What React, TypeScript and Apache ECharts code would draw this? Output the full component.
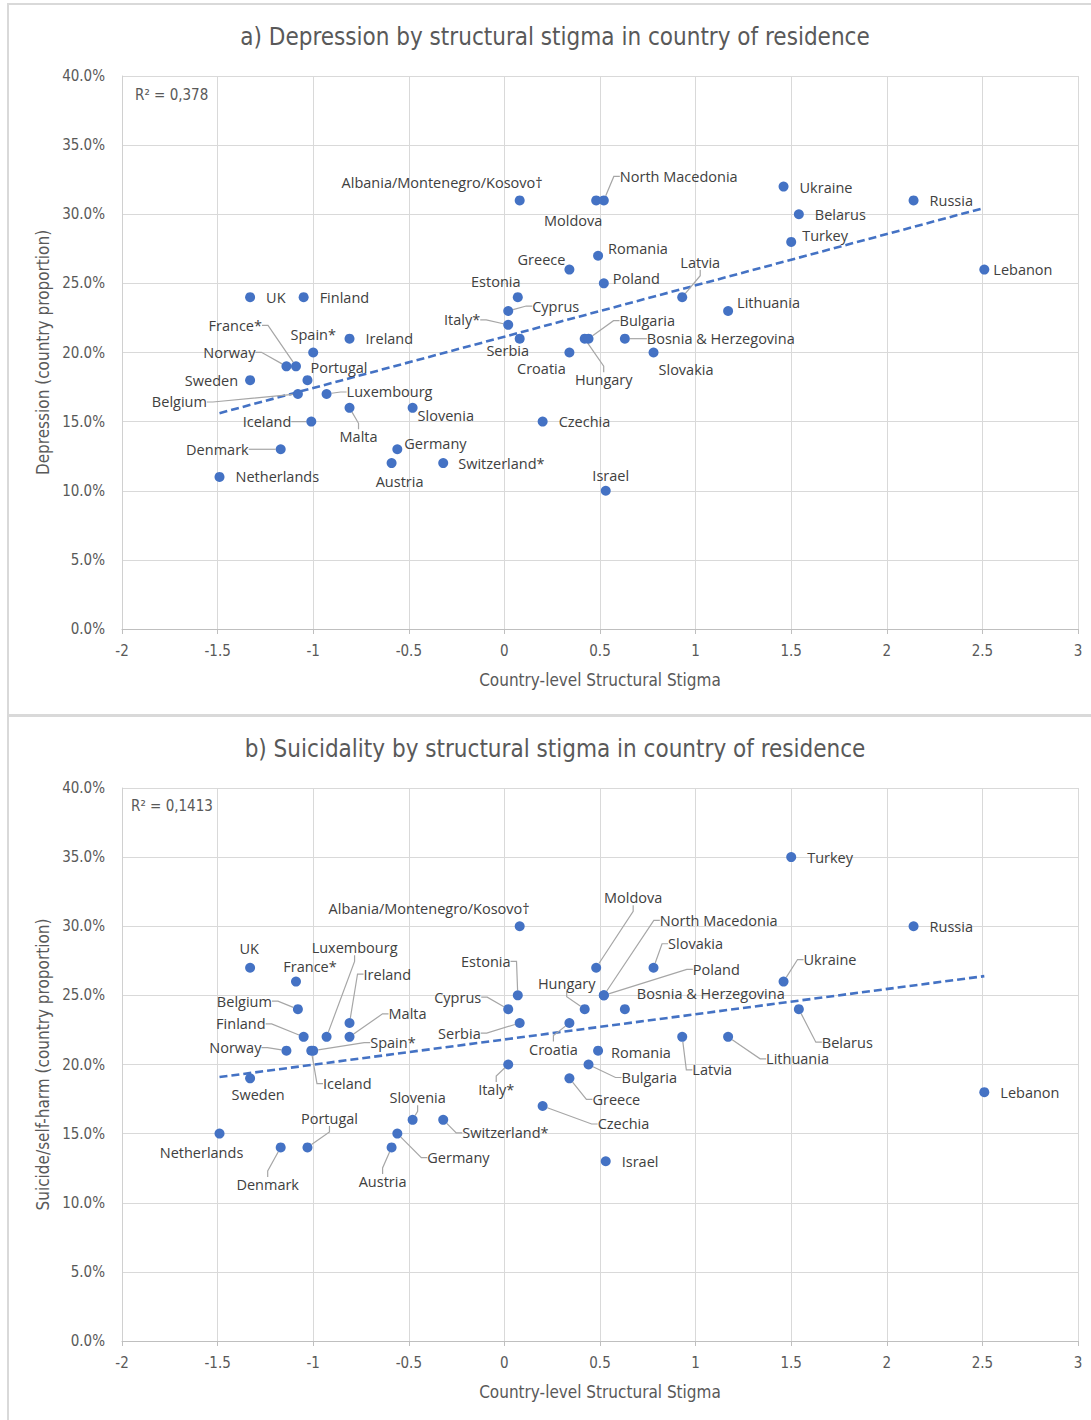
import React, { useEffect, useRef } from "react";
import * as echarts from "echarts";

// ---------- data ----------
const countries = [
  "Netherlands", "UK", "Sweden", "Denmark", "Norway", "France*", "Belgium", "Finland",
  "Portugal", "Iceland", "Spain*", "Luxembourg", "Ireland", "Malta", "Austria", "Germany",
  "Slovenia", "Switzerland*", "Cyprus", "Italy*", "Estonia", "Albania/Montenegro/Kosovo†",
  "Serbia", "Czechia", "Greece", "Croatia", "Hungary", "Bulgaria", "Moldova", "Romania",
  "North Macedonia", "Poland", "Israel", "Bosnia & Herzegovina", "Slovakia", "Latvia",
  "Lithuania", "Ukraine", "Turkey", "Belarus", "Russia", "Lebanon",
];
const stigma = [
  -1.49, -1.33, -1.33, -1.17, -1.14, -1.09, -1.08, -1.05,
  -1.03, -1.01, -1.0, -0.93, -0.81, -0.81, -0.59, -0.56,
  -0.48, -0.32, 0.02, 0.02, 0.07, 0.08,
  0.08, 0.2, 0.34, 0.34, 0.42, 0.44, 0.48, 0.49,
  0.52, 0.52, 0.53, 0.63, 0.78, 0.93,
  1.17, 1.46, 1.5, 1.54, 2.14, 2.51,
];
// percent
const depression = [
  11, 24, 18, 13, 19, 19, 17, 24,
  18, 15, 20, 17, 21, 16, 12, 13,
  16, 12, 23, 22, 24, 31,
  21, 15, 26, 20, 21, 21, 31, 27,
  31, 25, 10, 21, 20, 24,
  23, 32, 28, 30, 31, 26,
];
const suicidality = [
  15, 27, 19, 14, 21, 26, 24, 22,
  14, 21, 21, 22, 23, 22, 14, 15,
  16, 16, 24, 20, 25, 30,
  23, 17, 19, 23, 24, 20, 27, 21,
  25, 25, 13, 24, 27, 22,
  22, 26, 35, 24, 30, 18,
];
const xTicks = { min: -2, max: 3, interval: 0.5 };
const yTicks = { min: 0, max: 0.4, interval: 0.05 };
const titles = [
  "a) Depression by structural stigma in country of residence",
  "b) Suicidality by structural stigma in country of residence",
];
const yNames = ["Depression (country proportion)", "Suicide/self-harm (country proportion)"];
const xName = "Country-level Structural Stigma";
const r2Labels = ["R² = 0,378", "R² = 0,1413"];

// ---------- label placement (anchor, dx, dy, leader line) ----------
type Place = [string, number, number, number];
const depPlace: Place[] = [
  ["l", 16, 0, 0], ["l", 16, 0, 0], ["r", -12, 0, 0], ["r", -32, 0, 1], ["r", -31, -14, 1],
  ["r", -34, -41, 1], ["r", -91, 8, 1], ["l", 16, 0, 0],
  ["l", 3, -13, 0], ["r", -20, 0, 1], ["c", 0, -18, 0], ["l", 20, -2, 1], ["l", 16, 0, 0],
  ["c", 9, 29, 1], ["c", 8, 18, 0], ["l", 7, -6, 0],
  ["l", 5, 8, 0], ["l", 15, 0, 0], ["l", 24, -5, 1], ["r", -28, -5, 1], ["c", -22, -16, 0],
  ["r", 23, -18, 0],
  ["c", -12, 12, 0], ["l", 16, 0, 0], ["r", -4, -10, 0], ["c", -28, 16, 0], ["c", 19, 41, 1],
  ["l", 31, -18, 1], ["c", -23, 20, 0], ["l", 10, -7, 0],
  ["l", 16, -24, 1], ["l", 9, -5, 0], ["c", 5, -15, 0], ["l", 22, 0, 1], ["l", 5, 17, 0],
  ["c", 18, -35, 1],
  ["l", 9, -9, 0], ["l", 16, 1, 0], ["l", 11, -6, 0], ["l", 16, 0, 0], ["l", 16, 0, 0],
  ["l", 9, 0, 0],
];
const suiPlace: Place[] = [
  ["c", -18, 19, 0], ["c", -1, -19, 0], ["c", 8, 16, 0], ["c", -13, 37, 1], ["r", -25, -3, 1],
  ["c", 14, -15, 0], ["r", -26, -8, 1], ["r", -38, -13, 1],
  ["c", 22, -29, 1], ["c", 36, 33, 1], ["l", 57, -8, 1], ["c", 28, -89, 1], ["l", 14, -49, 1],
  ["l", 39, -23, 1], ["c", -9, 34, 1], ["l", 30, 24, 1],
  ["c", 5, -22, 1], ["l", 19, 13, 1], ["r", -27, -12, 1], ["c", -12, 25, 1], ["c", -32, -34, 1],
  ["r", 10, -18, 0],
  ["r", -39, 10, 1], ["l", 55, 18, 1], ["l", 23, 21, 1], ["c", -16, 26, 1], ["c", -18, -26, 1],
  ["l", 33, 13, 1], ["c", 37, -70, 1], ["l", 13, 2, 0],
  ["l", 56, -75, 1], ["l", 89, -26, 1], ["l", 16, 0, 0], ["l", 12, -16, 0], ["c", 42, -24, 1],
  ["c", 30, 33, 1],
  ["l", 38, 22, 1], ["l", 20, -22, 1], ["l", 16, 0, 0], ["l", 23, 33, 1], ["l", 16, 0, 0],
  ["l", 16, 0, 0],
];

// ---------- styles ----------
const NARROW = "'Liberation Sans Narrow', 'DejaVu Sans Condensed', sans-serif";
const LABEL_FONT = "'Open Sans', 'Noto Sans', sans-serif";
const BLUE = "#4472C4";
const AXIS_TEXT = "#595959";

function regression(xs: number[], ys: number[]) {
  const n = xs.length;
  const mx = xs.reduce((a, b) => a + b, 0) / n;
  const my = ys.reduce((a, b) => a + b, 0) / n;
  let sxy = 0, sxx = 0;
  for (let i = 0; i < n; i++) {
    sxy += (xs[i] - mx) * (ys[i] - my);
    sxx += (xs[i] - mx) ** 2;
  }
  const b = sxy / sxx;
  const a = my - b * mx;
  const x0 = Math.min(...xs), x1 = Math.max(...xs);
  return [[x0, a + b * x0], [x1, a + b * x1]];
}

const grids = [
  { left: 122, top: 76, width: 956, height: 553 },
  { left: 122, top: 788, width: 956, height: 553 },
];

export default function App() {
  const ref = useRef<HTMLDivElement>(null);
  useEffect(() => {
    document.body.style.margin = "0";
    if (!ref.current) return;
    const chart = echarts.init(ref.current, null, { renderer: "svg" });

    const sets = [
      { ys: depression, place: depPlace },
      { ys: suicidality, place: suiPlace },
    ];

    const xAxes = grids.map((_, i) => ({
      type: "value",
      gridIndex: i,
      min: xTicks.min,
      max: xTicks.max,
      interval: xTicks.interval,
      name: xName,
      nameLocation: "middle",
      nameGap: 42,
      nameTextStyle: { color: AXIS_TEXT, fontSize: 17, fontFamily: NARROW },
      axisLine: { show: true, onZero: false, lineStyle: { color: "#bfbfbf", width: 1 } },
      axisTick: { show: true, length: 5, lineStyle: { color: "#bfbfbf" } },
      axisLabel: { color: AXIS_TEXT, fontSize: 15, fontFamily: NARROW, margin: 14 },
      splitLine: { show: true, lineStyle: { color: "#d9d9d9", width: 1 } },
    }));
    const yAxes = grids.map((_, i) => ({
      type: "value",
      gridIndex: i,
      min: yTicks.min,
      max: yTicks.max,
      interval: yTicks.interval,
      name: yNames[i],
      nameLocation: "middle",
      nameGap: 69,
      nameTextStyle: { color: AXIS_TEXT, fontSize: 17, fontFamily: NARROW },
      axisLine: { show: true, onZero: false, lineStyle: { color: "#d0d0d0", width: 1 } },
      axisTick: { show: false },
      axisLabel: {
        color: AXIS_TEXT,
        fontSize: 15,
        fontFamily: NARROW,
        margin: 17,
        formatter: (v: number) => (v * 100).toFixed(1) + "%",
      },
      splitLine: { show: true, lineStyle: { color: "#d9d9d9", width: 1 } },
    }));

    const series: any[] = [];
    sets.forEach((s, i) => {
      const ysFrac = s.ys.map((v) => v / 100);
      series.push({
        type: "line",
        xAxisIndex: i,
        yAxisIndex: i,
        data: regression(stigma, ysFrac),
        symbol: "none",
        silent: true,
        z: 2,
        lineStyle: { color: BLUE, width: 2.6, type: [8, 4] },
      });
      series.push({
        type: "scatter",
        xAxisIndex: i,
        yAxisIndex: i,
        z: 3,
        symbolSize: 10,
        itemStyle: { color: BLUE, opacity: 1 },
        data: stigma.map((x, k) => ({
          name: countries[k],
          value: [x, ysFrac[k]],
          labelLine: { show: s.place[k][3] === 1 },
        })),
        label: {
          show: true,
          formatter: (p: any) => p.name,
          color: "#404040",
          fontSize: 14.5,
          fontFamily: LABEL_FONT,
          position: "right",
        },
        labelLine: { show: false, lineStyle: { color: "#a6a6a6", width: 1.2 }, length2: 6 },
        labelLayout: (p: any) => {
          const [a, dx, dy] = s.place[p.dataIndex];
          const cx = p.rect.x + p.rect.width / 2;
          const cy = p.rect.y + p.rect.height / 2;
          return {
            x: cx + dx,
            y: cy + dy,
            align: a === "l" ? "left" : a === "r" ? "right" : "center",
            verticalAlign: "middle",
          };
        },
      });
    });

    const textStyle = (t: string, x: number, y: number, size: number, align: string) => ({
      type: "text",
      x,
      y,
      silent: true,
      style: {
        text: t,
        fill: AXIS_TEXT,
        font: `${size}px ${NARROW}`,
        align,
        textAlign: align,
        verticalAlign: "middle",
        textVerticalAlign: "middle",
      },
    });

    chart.setOption({
      animation: false,
      backgroundColor: "#ffffff",
      grid: grids,
      xAxis: xAxes,
      yAxis: yAxes,
      series,
      graphic: [
        {
          type: "rect",
          silent: true,
          shape: { x: 8, y: 4, width: 1100, height: 711 },
          style: { fill: "none", stroke: "#d9d9d9", lineWidth: 2 },
        },
        {
          type: "rect",
          silent: true,
          shape: { x: 8, y: 716, width: 1100, height: 720 },
          style: { fill: "none", stroke: "#d9d9d9", lineWidth: 2 },
        },
        textStyle(titles[0], 555, 37, 24, "center"),
        textStyle(titles[1], 555, 749, 24, "center"),
        textStyle(r2Labels[0], 135, 95, 15, "left"),
        textStyle(r2Labels[1], 131, 806, 15, "left"),
      ],
    });
    return () => chart.dispose();
  }, []);
  return <div ref={ref} style={{ width: 1091, height: 1420 }} />;
}
